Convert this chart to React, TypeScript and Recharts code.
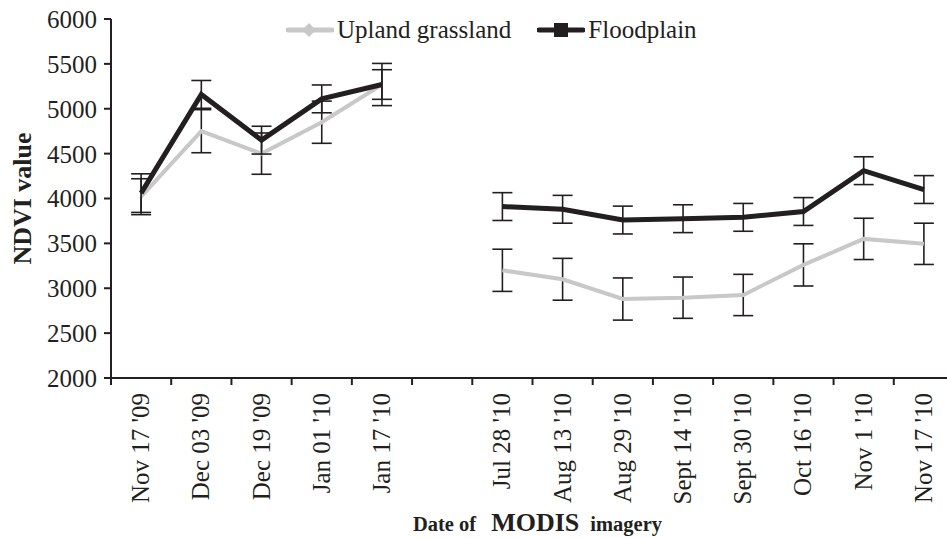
import React from "react"
import { ErrorBar, Line, LineChart, XAxis, YAxis } from "recharts"

const dates = [
  "Nov 17 '09",
  "Dec 03 '09",
  "Dec 19 '09",
  "Jan 01 '10",
  "Jan 17 '10",
  " ",
  "Jul 28 '10",
  "Aug 13 '10",
  "Aug 29 '10",
  "Sept 14 '10",
  "Sept 30 '10",
  "Oct 16 '10",
  "Nov 1 '10",
  "Nov 17 '10",
]

const upland = [4020, 4750, 4500, 4850, 5270, null, 3200, 3100, 2880, 2895, 2925, 3260, 3550, 3495]
const uplandErr = [200, 240, 230, 235, 235, null, 235, 233, 235, 230, 230, 235, 230, 230]
const floodplain = [4060, 5160, 4650, 5110, 5270, null, 3910, 3880, 3760, 3775, 3790, 3855, 4310, 4100]
const floodErr = [215, 155, 155, 155, 165, null, 155, 155, 155, 155, 155, 155, 155, 155]

const yTicks = [2000, 2500, 3000, 3500, 4000, 4500, 5000, 5500, 6000]

const data = dates.map((date, i) => ({
  date,
  upland: upland[i],
  uplandErr: uplandErr[i],
  floodplain: floodplain[i],
  floodErr: floodErr[i],
}))

const FONT = "'Liberation Serif', 'Times New Roman', serif"
const INK = "#231f20"
const GREY = "#c8c8c8"

const W = 960
const H = 538
const LEFT = 111
const RIGHT_PAD = 6
const BAND = (W - LEFT - RIGHT_PAD) / dates.length

const DateTick = (props: any) => {
  const { x, y, payload } = props
  const tx = x + 8
  const ty = y + 15
  return (
    <g>
      <line x1={x - BAND / 2} x2={x - BAND / 2} y1={y} y2={y + 7} stroke={INK} strokeWidth={2} />
      <text
        x={tx}
        y={ty}
        transform={`rotate(-90 ${tx} ${ty})`}
        textAnchor="end"
        fontFamily={FONT}
        fontSize={25}
        fill={INK}
      >
        {payload.value}
      </text>
    </g>
  )
}

const XTitle = (props: any) => {
  const { viewBox } = props
  const cx = viewBox.x + viewBox.width / 2 + 5
  return (
    <text x={cx} y={531} textAnchor="middle" fontFamily={FONT} fontWeight="bold" fill={INK}>
      <tspan fontSize={20.5}>Date of</tspan>
      <tspan fontSize={26} dx={15}>MODIS</tspan>
      <tspan fontSize={20.5} dx={11}>imagery</tspan>
    </text>
  )
}

const YTitle = (props: any) => {
  const { viewBox } = props
  const cy = viewBox.y + viewBox.height / 2
  return (
    <text
      x={22}
      y={cy}
      transform={`rotate(-90 22 ${cy})`}
      textAnchor="middle"
      dominantBaseline="central"
      fontFamily={FONT}
      fontWeight="bold"
      fontSize={26}
      fill={INK}
    >
      NDVI value
    </text>
  )
}

const legendText: React.CSSProperties = {
  fontFamily: FONT,
  fontSize: 25,
  color: INK,
  lineHeight: "30px",
  whiteSpace: "nowrap",
}

function LegendBox() {
  return (
    <div style={{ position: "absolute", left: 286, top: 15, display: "flex", alignItems: "center" }}>
      <svg width={48} height={30}>
        <line x1={2} x2={46} y1={15} y2={15} stroke={GREY} strokeWidth={5} strokeLinecap="round" />
        <path d="M23 8 L30 15 L23 22 L16 15 Z" fill={GREY} />
      </svg>
      <span style={{ ...legendText, marginLeft: 3 }}>Upland grassland</span>
      <svg width={48} height={30} style={{ marginLeft: 26 }}>
        <line x1={2} x2={46} y1={15} y2={15} stroke={INK} strokeWidth={5} strokeLinecap="round" />
        <rect x={17} y={8} width={14} height={14} fill={INK} />
      </svg>
      <span style={{ ...legendText, marginLeft: 3 }}>Floodplain</span>
    </div>
  )
}

export default function App() {
  return (
    <div
      style={{
        position: "absolute",
        left: 0,
        top: 0,
        width: 947,
        height: 538,
        overflow: "hidden",
        background: "#fff",
      }}
    >
      <LineChart width={W} height={H} data={data} margin={{ top: 19, right: RIGHT_PAD, left: 0, bottom: 0 }}>
        <XAxis
          dataKey="date"
          scale="band"
          interval={0}
          height={160}
          tickSize={0}
          tickMargin={0}
          tickLine={false}
          tick={<DateTick />}
          axisLine={{ stroke: INK, strokeWidth: 2 }}
          label={<XTitle />}
        />
        <YAxis
          width={LEFT}
          domain={[2000, 6000]}
          ticks={yTicks}
          interval={0}
          tickSize={7}
          tickMargin={7}
          axisLine={{ stroke: INK, strokeWidth: 2 }}
          tickLine={{ stroke: INK, strokeWidth: 2 }}
          tick={{ fontFamily: FONT, fontSize: 25, fill: INK }}
          label={<YTitle />}
        />
        <Line
          dataKey="upland"
          stroke={GREY}
          strokeWidth={4}
          dot={false}
          isAnimationActive={false}
        >
          <ErrorBar dataKey="uplandErr" direction="y" width={10} stroke={INK} strokeWidth={1.6} />
        </Line>
        <Line
          dataKey="floodplain"
          stroke={INK}
          strokeWidth={5}
          dot={false}
          isAnimationActive={false}
        >
          <ErrorBar dataKey="floodErr" direction="y" width={10} stroke={INK} strokeWidth={1.6} />
        </Line>
      </LineChart>
      <LegendBox />
    </div>
  )
}
